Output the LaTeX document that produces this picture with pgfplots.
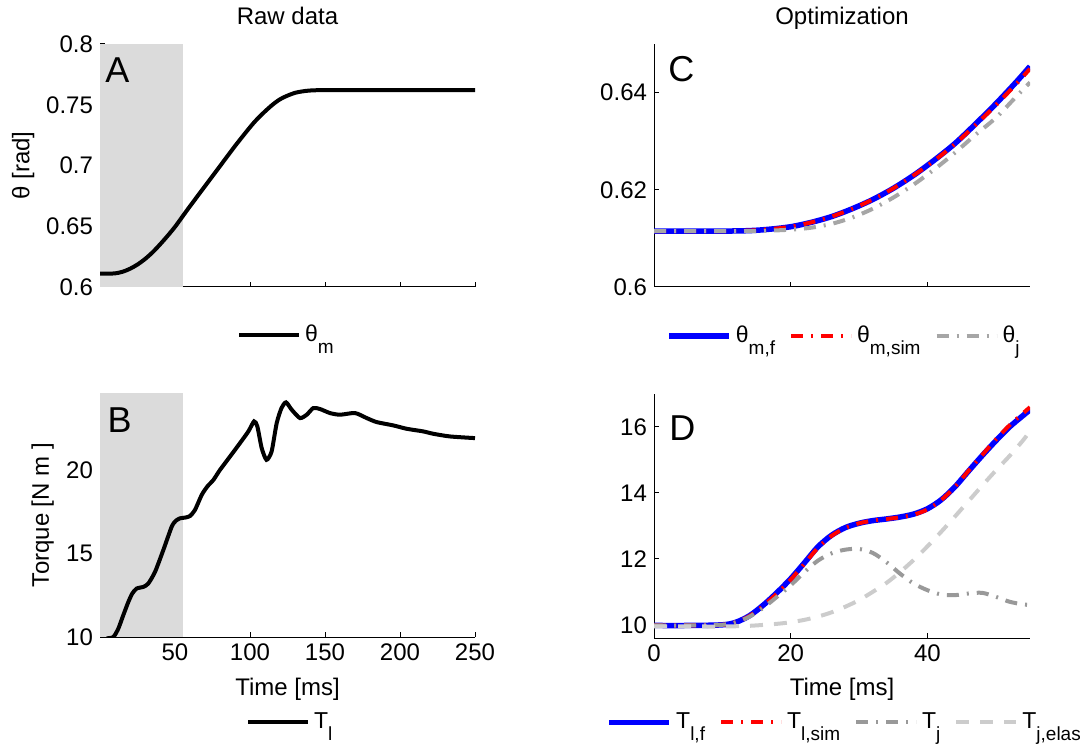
\documentclass[border=0pt]{standalone}
\usepackage{fontspec}
\setmainfont{Liberation Sans}
\usepackage{pgfplots}
\pgfplotsset{compat=1.18}

\newcommand{\sub}[1]{\raisebox{-6pt}{\fontsize{9.5}{10}\selectfont #1}}
\definecolor{shadegray}{gray}{0.86}
\definecolor{midgray}{gray}{0.6}
\definecolor{ltgray}{gray}{0.8}

\pgfplotsset{
 mystyle/.style={
  scale only axis,
  axis lines*=left,
  tick align=inside,
  major tick length=2.5pt,
  every tick/.style={black, line width=0.5pt},
  axis line style={line width=0.5pt, black},
  tick label style={font=\fontsize{12}{14}\selectfont},
  label style={font=\fontsize{12}{14}\selectfont},
  title style={at={(0.5,1)}, anchor=base, yshift=3.5pt, font=\fontsize{12}{14}\selectfont},
  /pgf/number format/assume math mode=true,
  scaled ticks=false,
  legend style={draw=none, fill=none, legend columns=-1, anchor=center,
     font=\fontsize{11.5}{13}\selectfont,
     /tikz/every even column/.append style={column sep=5pt}},
  legend image code/.code={\draw[##1] (0pt,0pt) -- (30pt,0pt);},
 },
 dashdot/.style={dash pattern=on 6pt off 4pt on 1pt off 4pt},
 mydash/.style={dash pattern=on 6.5pt off 5.5pt},
}

\begin{document}
\begin{tikzpicture}
\useasboundingbox (0,0) rectangle (540pt,372pt);

% ---------------- Panel A
\begin{axis}[mystyle,
  at={(50pt,228.5pt)}, anchor=south west,
  width=187.5pt, height=121.5pt,
  xmin=0, xmax=250, ymin=0.6, ymax=0.8,
  xtick={0,50,...,250}, xticklabels={},
  ytick={0.6,0.65,0.7,0.75,0.8},
  yticklabels={0.6,0.65,0.7,0.75,0.8},
  title={Raw data},
  ylabel={θ [rad]},
  ylabel style={at={(axis description cs:-0.205,0.5)}, rotate=0, anchor=center},
  legend style={at={(0.5,-0.198)}},
]
\addplot[fill=shadegray, draw=none, forget plot] coordinates {(0,0.6) (55,0.6) (55,0.8) (0,0.8)} -- cycle;
\addplot[black, line width=2pt, smooth] coordinates {
(0,0.611) (5,0.611) (10,0.6112) (15,0.6125) (20,0.6150) (25,0.6185) (30,0.6230)
(35,0.6285) (40,0.6350) (45,0.6420) (50,0.6495) (55,0.6580) (60,0.6665) (70,0.6830)
(80,0.6995) (90,0.7160) (100,0.7315) (105,0.7385) (110,0.7445) (115,0.7500) (120,0.7545)
(125,0.7575) (130,0.7598) (135,0.7610) (140,0.7617) (150,0.7620) (200,0.7620) (250,0.7620)};
\addlegendentry{θ\sub{m}}
\node[anchor=base west, inner sep=0, font=\fontsize{18}{20}\selectfont] at (axis description cs:0.013,0.84) {A};
\end{axis}

% ---------------- Panel B
\begin{axis}[mystyle,
  at={(50pt,53.5pt)}, anchor=south west,
  width=187.5pt, height=122pt,
  xmin=0, xmax=250, ymin=10, ymax=24.6,
  xtick={50,100,...,250},
  ytick={10,15,20},
  xlabel={Time [ms]},
  xlabel style={at={(axis description cs:0.5,-0.238)}, anchor=base},
  ylabel={Torque [N m ]},
  ylabel style={at={(axis description cs:-0.153,0.5)}, anchor=center},
  legend style={at={(0.51,-0.35)}},
]
\addplot[fill=shadegray, draw=none, forget plot] coordinates {(0,10) (55,10) (55,24.6) (0,24.6)} -- cycle;
\addplot[black, line width=2pt, smooth, tension=0.4] coordinates {
(4.4,9.92) (8.9,10.0) (12.2,10.5) (15.5,11.3) (18.9,12.1) (21.5,12.6) (24.4,12.9) (28.9,13.0)
(32.2,13.2) (36.7,13.9) (42.2,15.2) (47.8,16.6) (50.5,16.95) (53.3,17.1) (57,17.15) (60,17.24)
(63.3,17.6) (67.8,18.5) (71.5,19.0) (75.6,19.4) (80,20) (86.7,20.8) (93.3,21.6) (98.9,22.3)
(102.7,22.9) (104.9,22.6) (107.8,21.3) (111,20.6) (114.4,21.1) (117.8,22.8) (121,23.7)
(124,24.04) (127.8,23.6) (133.3,23.1) (137.8,23.3) (142.2,23.7) (146.7,23.64) (153.3,23.4)
(160,23.3) (170,23.4) (177.8,23.1) (184.4,22.86) (195.6,22.66) (204.4,22.46) (215.6,22.3)
(222.2,22.16) (233.3,22.0) (250,21.9)};
\addlegendentry{T\sub{l}}
\node[anchor=base west, inner sep=0, font=\fontsize{18}{20}\selectfont] at (axis description cs:0.019,0.84) {B};
\end{axis}

% ---------------- Panel C
\begin{axis}[mystyle,
  at={(327pt,228.5pt)}, anchor=south west,
  width=188pt, height=121.5pt,
  xmin=0, xmax=55, ymin=0.6, ymax=0.65,
  xtick={20,40}, xticklabels={},
  ytick={0.6,0.62,0.64},
  yticklabels={0.6,0.62,0.64},
  title={Optimization},
  legend style={at={(0.508,-0.202)}},
]
\addplot[blue, line width=2.75pt, smooth] coordinates {
(0,0.6115) (5,0.6115) (10,0.6115) (14,0.6116) (17,0.6119) (20,0.6124) (23,0.6133) (26,0.6145)
(29,0.6161) (32,0.6180) (35,0.6203) (38,0.6230) (41,0.6261) (44,0.6295) (47,0.6335) (50,0.6377)
(53,0.6422) (55,0.6454)};
\addlegendentry{θ\sub{m,f}}
\addplot[red, line width=2pt, dashdot, smooth] coordinates {
(0,0.6115) (5,0.6115) (10,0.6115) (14,0.6116) (17,0.6119) (20,0.6124) (23,0.6133) (26,0.6145)
(29,0.6161) (32,0.6180) (35,0.6203) (38,0.6230) (41,0.6260) (44,0.6294) (47,0.6333) (50,0.6374)
(53,0.6418) (55,0.6449)};
\addlegendentry{θ\sub{m,sim}}
\addplot[color=gray!70, line width=2pt, dashdot, smooth] coordinates {
(0,0.6115) (5,0.6115) (10,0.6115) (14,0.6115) (17,0.6116) (20,0.6118) (23,0.6122) (26,0.6130)
(29,0.6143) (32,0.6161) (35,0.6184) (38,0.6211) (41,0.6242) (44,0.6276) (47,0.6313) (50,0.6348)
(53,0.6392) (55,0.6421)};
\addlegendentry{θ\sub{j}}
\node[anchor=base west, inner sep=0, font=\fontsize{18}{20}\selectfont] at (axis description cs:0.037,0.844) {C};
\end{axis}

% ---------------- Panel D
\begin{axis}[mystyle,
  at={(327pt,53pt)}, anchor=south west,
  width=188pt, height=122pt,
  xmin=0, xmax=55, ymin=9.6, ymax=17,
  xtick={0,20,40},
  ytick={10,12,14,16},
  xlabel={Time [ms]},
  xlabel style={at={(axis description cs:0.5,-0.234)}, anchor=base},
  legend style={at={(0.51,-0.346)}},
]
\addplot[blue, line width=2.75pt, smooth] coordinates {
(0,9.98) (5,9.98) (10,10.0) (12,10.08) (14,10.28) (16,10.6) (18,10.98) (20,11.4) (22,11.88)
(24,12.37) (26,12.72) (28,12.95) (30,13.08) (32,13.16) (34,13.21) (36,13.27) (38,13.36)
(40,13.52) (42,13.79) (44,14.18) (46,14.66) (48,15.13) (50,15.58) (52,16.0) (54,16.35) (55,16.52)};
\addlegendentry{T\sub{l,f}}
\addplot[red, line width=2pt, dashdot, smooth] coordinates {
(0,9.98) (5,9.98) (10,10.0) (12,10.08) (14,10.27) (16,10.58) (18,10.95) (20,11.37) (22,11.85)
(24,12.34) (26,12.7) (28,12.94) (30,13.08) (32,13.16) (34,13.21) (36,13.26) (38,13.34)
(40,13.5) (42,13.78) (44,14.18) (46,14.67) (48,15.15) (50,15.62) (52,16.05) (54,16.42) (55,16.6)};
\addlegendentry{T\sub{l,sim}}
\addplot[midgray, line width=2pt, dashdot, smooth] coordinates {
(0,9.98) (5,9.98) (10,10.0) (12,10.08) (14,10.25) (16,10.52) (18,10.85) (20,11.2) (22,11.6)
(24,11.95) (26,12.17) (28,12.28) (30,12.3) (32,12.18) (34,11.9) (36,11.55) (38,11.25)
(40,11.05) (42,10.92) (44,10.9) (46,10.95) (48,10.97) (50,10.85) (52,10.7) (54,10.62) (55,10.6)};
\addlegendentry{T\sub{j}}
\addplot[ltgray, line width=2pt, mydash, smooth] coordinates {
(0,9.95) (5,9.95) (10,9.95) (14,9.97) (18,10.03) (20,10.08) (22,10.15) (24,10.25) (26,10.38)
(28,10.55) (30,10.75) (32,11.0) (34,11.27) (36,11.6) (38,11.97) (40,12.38) (42,12.82)
(44,13.28) (46,13.75) (48,14.22) (50,14.68) (52,15.12) (54,15.6) (55,15.88)};
\addlegendentry{T\sub{j,elas}}
\node[anchor=base west, inner sep=0, font=\fontsize{18}{20}\selectfont] at (axis description cs:0.04,0.81) {D};
\end{axis}
\end{tikzpicture}
\end{document}
